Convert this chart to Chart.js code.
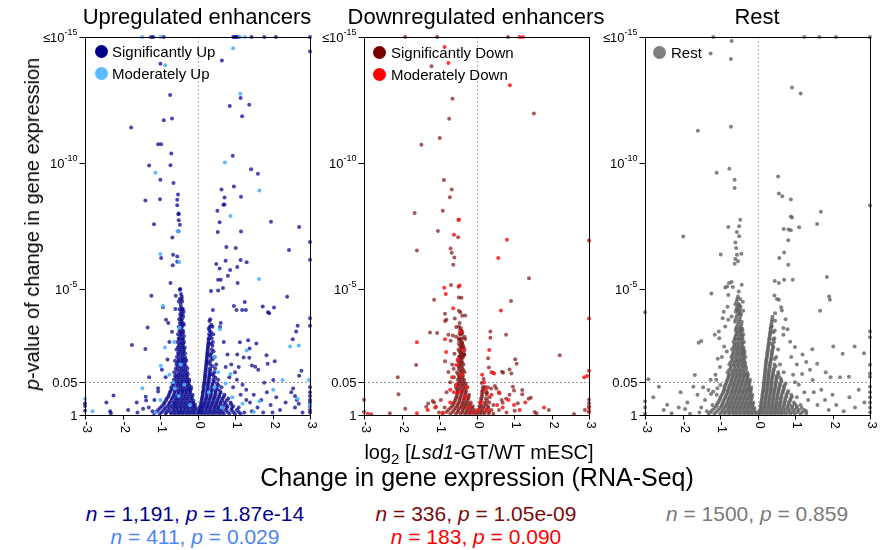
<!DOCTYPE html>
<html>
<head>
<meta charset="utf-8">
<script src="https://cdn.jsdelivr.net/npm/chart.js@4.4.1/dist/chart.umd.min.js"></script>
<style>
  body { margin: 0; background: #fff; }
  #wrap { position: relative; width: 885px; height: 550px; overflow: hidden; font-family: "Liberation Sans", Arial, sans-serif; }
  canvas { position: absolute; top: 0; }
  .t { position: absolute; white-space: nowrap; line-height: 1; transform: translateX(-50%); color: #000; }
  .leg { position: absolute; display: flex; align-items: center; height: 15px; font-size: 15px; line-height: 1; white-space: nowrap; }
  .dot { width: 13px; height: 13px; border-radius: 50%; }
</style>
</head>
<body>
<div id="wrap">
  <canvas id="c1" width="315" height="445" style="left:5px"></canvas>
  <canvas id="c2" width="315" height="445" style="left:284px"></canvas>
  <canvas id="c3" width="315" height="445" style="left:565px"></canvas>

  <div class="t" style="left:197px;top:6px;font-size:22px">Upregulated enhancers</div>
  <div class="t" style="left:476px;top:6px;font-size:22px">Downregulated enhancers</div>
  <div class="t" style="left:757px;top:6px;font-size:22px">Rest</div>

  <div class="leg" style="left:95px;top:44px"><div class="dot" style="background:#000088"></div><span style="margin-left:4px">Significantly Up</span></div>
  <div class="leg" style="left:95px;top:66px"><div class="dot" style="background:#5bbdff"></div><span style="margin-left:4px">Moderately Up</span></div>
  <div class="leg" style="left:373px;top:45px"><div class="dot" style="background:#7a0000"></div><span style="margin-left:5px">Significantly Down</span></div>
  <div class="leg" style="left:373px;top:67px"><div class="dot" style="background:#ff0000"></div><span style="margin-left:5px">Moderately Down</span></div>
  <div class="leg" style="left:653px;top:45px"><div class="dot" style="background:#7f7f7f"></div><span style="margin-left:5px">Rest</span></div>

  <div class="t" style="left:32px;top:224px;font-size:20px;transform:translate(-50%,-50%) rotate(-90deg)"><i>p</i>-value of change in gene expression</div>

  <div class="t" style="left:479px;top:442px;font-size:20px">log<span style="font-size:15px;position:relative;top:5px">2</span> [<i>Lsd1</i>-GT/WT mESC]</div>
  <div class="t" style="left:477px;top:465px;font-size:25px">Change in gene expression (RNA-Seq)</div>

  <div class="t" style="left:195px;top:503px;font-size:21px;color:#00008b"><i>n</i> = 1,191, <i>p</i> = 1.87e-14</div>
  <div class="t" style="left:195px;top:526px;font-size:21px;color:#4a86f5"><i>n</i> = 411, <i>p</i> = 0.029</div>
  <div class="t" style="left:476px;top:503px;font-size:21px;color:#7b0a0a"><i>n</i> = 336, <i>p</i> = 1.05e-09</div>
  <div class="t" style="left:476px;top:526px;font-size:21px;color:#ff0000"><i>n</i> = 183, <i>p</i> = 0.090</div>
  <div class="t" style="left:757px;top:503px;font-size:21px;color:#7a7a7a"><i>n</i> = 1500, <i>p</i> = 0.859</div>
</div>

<script>
// axis ticks (y is -log10 p, clipped at 15)
const xTicks = [-3, -2, -1, 0, 1, 2, 3];
const yTickVals = [0, 1.301, 5, 10, 15];
const yTickBase = ["1", "0.05", "10", "10", "\u226410"];
const yTickSup = ["", "", "-5", "-10", "-15"];

// ---- Upregulated enhancers ----
// scattered points [log2FC, -log10 p]
const upSig = [
  [-1.24,15],[-1.18,15],[-0.90,15],[0.95,15],[0.99,15],[1.04,15],[1.08,15],[1.44,15],[1.78,15],[2.09,15],[3,15],
  [3,14.42],[0.65,14.07],[-0.99,13.94],[-0.73,12.70],[1.15,12.58],[0.86,12.26],[1.38,12.31],[1.19,11.86],[-0.90,11.70],
  [-0.68,11.77],[-1.77,11.41],[-1.05,10.74],[-0.97,10.74],[-0.70,10.38],[0.94,10.29],[-1.29,9.90],[-0.72,9.91],[1.43,9.75],
  [1.61,9.57],[-0.99,9.34],[-0.64,9.21],[0.64,8.95],[0.97,9.07],[-0.52,8.75],[-1.39,8.51],[-1.00,8.56],[-0.54,8.54],
  [0.72,8.63],[1.16,8.66],[0.72,8.35],[-0.50,8.00],[0.53,8.11],[-0.54,8.32],[0.69,8.34],[-0.51,7.97],[-0.50,7.73],
  [-0.47,7.55],[-1.16,7.57],[0.59,7.65],[1.96,7.67],[2.71,7.46],[-0.51,7.29],[0.54,7.26],[1.16,7.28],[-0.67,7.04],
  [3,6.87],[2.44,6.55],[0.77,6.67],[1.02,6.63],[-0.97,6.23],[-0.65,6.36],[-0.54,6.29],[-0.54,6.08],[3,6.16],[1.15,6.15],
  [1.31,6.06],[0.75,6.12],[-0.66,5.94],[0.50,5.99],[0.59,5.81],[0.87,5.75],[1.06,5.87],[0.81,5.53],[-0.72,5.24],
  [0.55,5.37],[0.62,5.37],[1.07,5.24],[-1.23,4.73],[-0.58,4.73],[-0.47,4.97],[-0.42,4.70],[0.36,4.92],[0.55,4.94],
  [0.68,5.04],[2.39,4.69],[1.74,4.31],[2.04,4.27],[1.88,4.08],[1.91,4.04],[-0.92,4.28],[-0.59,4.21],[-0.39,4.21],
  [0.41,4.17],[0.97,4.33],[1.04,4.17],[1.26,4.48],[1.19,4.17],[1.29,4.17],[-0.84,3.78],[-0.78,3.65],[-1.33,3.47],
  [0.62,3.65],[0.60,3.49],[3,3.84],[3,3.54],[2.67,3.54],[2.63,3.31],[2.54,3.01],[-1.75,2.78],[-1.39,2.62],[1.13,2.89],
  [1.35,2.97],[1.57,2.84],[1.39,2.64],[1.06,2.40],[1.23,2.28],[1.38,2.27],[1.84,2.37],[2.06,2.13],[1.87,2.03],[1.45,1.96],
  [1.54,1.91],[1.62,1.80],[2.77,1.76],[2.71,1.56],[2.02,1.39],[1.78,1.28],[-1.29,1.50],[-1.05,1.06],[-1.05,0.93],
  [-1.62,0.50],[-1.38,0.72],[-1.37,0.58],[-2.24,0.77],[-2.43,0.50],[-3,0.47],[-3,0.36],[-3,0.17],[-2.33,0.15],[-2.31,0.07],
  [-1.85,0.2],[-1.6,0.1],[-1.3,0.3],[-1.2,0.15],[-1.45,0.25],[-1.15,0.6],[-0.85,1.5],[-0.95,1.8],[-0.8,2.2],[-0.75,2.9],
  [-0.68,3.3],[1.2,1.2],[1.3,1.0],[1.5,0.8],[1.4,0.5],[1.6,0.3],[1.7,0.6],[1.85,0.9],[1.95,0.4],[2.1,0.7],[2.2,0.2],
  [2.35,0.5],[2.5,0.9],[2.6,0.3],[2.65,0.6],[2.8,0.1],[1.1,0.3],[1.25,0.1],[1.45,0.15],[1.75,0.1],[2.0,0.1],[1.15,0.8],
  [1.3,0.6],[0.95,1.1],[1.05,1.4],[1.0,1.7],[0.9,2.0],[0.8,2.4],[0.7,2.9],[0.75,1.9],[0.85,1.5],[1.1,1.9],
  [3,1.1],[3,0.9],[3,0.75],[3,0.6],[3,0.5],[3,0.35],[3,0.2],[3,0.1],[2.6,0.75],[2.55,1.05],[2.7,0.45]
];
// dense V core, rows of [-log10 p, [log2FC ...]]
const upSigCore = [
  [0.05, [-1.15,-1.0,-0.85,-0.7,-0.6,-0.5,-0.4,-0.3,-0.2,-0.1,0,0.1,0.2,0.3,0.4,0.5,0.6,0.7,0.85,1.0,1.15]],
  [0.12, [-1.1,-0.95,-0.82,-0.72,-0.62,-0.52,-0.44,-0.36,-0.27,-0.18,-0.09,0.02,0.08,0.16,0.26,0.36,0.46,0.57,0.67,0.8,0.95,1.1]],
  [0.2, [-1.05,-0.9,-0.78,-0.65,-0.55,-0.45,-0.35,-0.25,-0.15,-0.06,0.04,0.12,0.22,0.32,0.42,0.52,0.62,0.75,0.9,1.05]],
  [0.28, [-1.0,-0.86,-0.73,-0.62,-0.53,-0.43,-0.33,-0.23,-0.13,-0.04,0.06,0.14,0.24,0.34,0.45,0.55,0.66,0.78,0.92]],
  [0.35, [-0.95,-0.8,-0.68,-0.58,-0.48,-0.38,-0.28,-0.18,-0.08,0.08,0.16,0.26,0.36,0.46,0.56,0.68,0.8,0.95]],
  [0.43, [-0.9,-0.76,-0.64,-0.55,-0.45,-0.35,-0.25,-0.15,-0.07,0.09,0.18,0.28,0.39,0.5,0.62,0.75,0.9]],
  [0.5, [-0.88,-0.74,-0.62,-0.52,-0.42,-0.32,-0.22,-0.12,0.1,0.2,0.3,0.4,0.5,0.6,0.72,0.88]],
  [0.58, [-0.84,-0.7,-0.59,-0.5,-0.4,-0.3,-0.2,-0.11,0.11,0.21,0.31,0.42,0.53,0.65,0.78]],
  [0.65, [-0.82,-0.68,-0.57,-0.47,-0.37,-0.27,-0.16,0.12,0.23,0.33,0.44,0.55,0.67,0.82]],
  [0.72, [-0.78,-0.65,-0.55,-0.45,-0.35,-0.25,-0.15,0.13,0.24,0.35,0.46,0.58,0.7]],
  [0.8, [-0.76,-0.63,-0.52,-0.42,-0.32,-0.22,-0.13,0.14,0.25,0.36,0.47,0.58,0.72]],
  [0.88, [-0.74,-0.61,-0.5,-0.4,-0.3,-0.2,0.14,0.25,0.36,0.48,0.62]],
  [0.95, [-0.72,-0.6,-0.5,-0.4,-0.3,-0.2,0.15,0.26,0.37,0.48,0.6]],
  [1.02, [-0.68,-0.56,-0.45,-0.35,-0.25,-0.18,0.17,0.28,0.4,0.53]],
  [1.1, [-0.7,-0.58,-0.47,-0.37,-0.27,-0.17,0.16,0.27,0.38,0.5,0.64]],
  [1.18, [-0.64,-0.52,-0.42,-0.32,-0.22,0.17,0.28,0.4,0.56]],
  [1.25, [-0.66,-0.55,-0.45,-0.35,-0.25,0.18,0.28,0.4,0.52]],
  [1.33, [-0.6,-0.5,-0.4,-0.3,-0.23,0.19,0.3,0.44]],
  [1.4, [-0.63,-0.52,-0.42,-0.32,-0.22,0.19,0.3,0.42,0.55]],
  [1.48, [-0.57,-0.47,-0.37,-0.27,0.2,0.31,0.48]],
  [1.55, [-0.6,-0.5,-0.4,-0.3,0.2,0.31,0.43]],
  [1.62, [-0.55,-0.45,-0.35,-0.26,0.21,0.33,0.4]],
  [1.7, [-0.62,-0.48,-0.38,-0.28,0.21,0.32,0.45]],
  [1.78, [-0.54,-0.43,-0.33,0.22,0.34]],
  [1.85, [-0.58,-0.47,-0.37,-0.27,0.22,0.33,0.47]],
  [1.93, [-0.52,-0.42,-0.31,0.23,0.4]],
  [2.0, [-0.56,-0.45,-0.35,0.23,0.34,0.5]],
  [2.08, [-0.54,-0.44,-0.34,0.24,0.3]],
  [2.15, [-0.6,-0.5,-0.4,-0.3,0.24,0.35]],
  [2.22, [-0.5,-0.4,-0.32,0.25,0.41]],
  [2.3, [-0.55,-0.44,-0.34,0.25,0.36,0.46]],
  [2.38, [-0.5,-0.39,0.26,0.33]],
  [2.45, [-0.52,-0.42,-0.33,0.26,0.37]],
  [2.53, [-0.48,-0.38,0.27,0.43]],
  [2.6, [-0.56,-0.46,-0.36,0.27,0.38]],
  [2.68, [-0.52,-0.42,-0.34,0.28]],
  [2.75, [-0.5,-0.4,0.28,0.4]],
  [2.83, [-0.47,-0.38,0.29,0.36]],
  [2.9, [-0.54,-0.44,-0.36,0.29,0.41]],
  [3.0, [-0.48,-0.39,0.3]],
  [3.05, [-0.5,-0.4,0.3,0.38]],
  [3.13, [-0.46,-0.36,0.34]],
  [3.2, [-0.52,-0.42,0.31,0.42]],
  [3.28, [-0.46,-0.38,0.36]],
  [3.35, [-0.48,-0.39,0.32]],
  [3.43, [-0.45,0.3]],
  [3.5, [-0.5,-0.41,0.33,0.4]],
  [3.58, [-0.44,-0.36,0.37]],
  [3.65, [-0.47,-0.39]],
  [3.73, [-0.43,0.32]],
  [3.8, [-0.49,-0.42,0.34]],
  [3.9, [-0.45,-0.38]],
  [4.0, [-0.46,-0.4]],
  [4.1, [-0.44,-0.37]],
  [4.2, [-0.48,-0.41]],
  [4.3, [-0.44]],
  [4.4, [-0.45]],
  [4.5, [-0.5,-0.41]],
  [4.6, [-0.47,-0.42]],
  [4.8, [-0.44]],
  [5.0, [-0.46]]
];
const upMod = [
  [-1.48,15],[-0.99,15],[1.13,15],[1.26,15],[0.95,14.55],[-0.86,13.88],[1.14,12.75],[0.73,10.02],[-1.12,9.61],[1.65,8.91],
  [0.88,7.90],[-0.53,7.29],[-0.49,6.07],[-0.99,6.39],[1.64,5.40],[-0.92,4.33],[2.70,2.76],[2.47,2.72],[-0.87,2.68],
  [1.31,2.56],[2.27,1.39],[2.97,1.39],[-1.47,1.06],[-3,0.64],[-2.80,0.15],[-0.62,2.9],[-0.48,3.46],[-0.98,1.95],
  [-0.65,1.3],[-0.6,1.05],[0.6,3.4],[0.55,1.7],[0.88,1.63],[0.93,0.7],[1.65,0.55],[2.02,1.0],[2.67,0.64],[1.5,0.12],
  [-1.12,0.09],[-0.99,0.6],[-0.45,2.0],[-0.35,1.2],[0.45,2.3],[0.3,0.9],[-0.2,0.4],[0.65,0.3],[0.45,1.1],[-0.5,0.75],
  [3,0.4],[1.2,0.45],[0.75,1.25],[-0.75,1.6]
];

// ---- Downregulated enhancers ----
const downSig = [
  [-1.90,15],[-1.05,15],[0.84,15],[-1.20,13.84],[-0.64,12.55],[1.53,11.96],[-0.73,11.76],[-0.98,10.99],[-1.47,10.72],
  [-0.87,9.33],[-0.66,8.95],[-0.71,8.64],[-1.65,8.02],[-0.90,8.11],[-0.48,7.75],[-1.03,7.30],[-1.59,6.53],[-0.49,7.05],
  [-0.69,6.61],[-0.66,6.44],[-0.59,6.25],[-0.62,5.96],[1.40,5.43],[-0.68,5.16],[-0.48,5.09],[-0.47,4.66],[-0.40,4.65],
  [-1.13,4.57],[0.92,4.52],[-0.47,4.14],[-0.43,4.08],[-0.38,3.94],[-0.30,3.95],[-0.84,4.02],[-0.80,3.78],[-0.84,3.73],
  [-0.58,3.83],[-0.54,3.49],[-0.45,3.65],[-1.24,3.27],[-1.05,3.25],[-0.75,3.18],[-0.63,3.15],[-0.54,3.11],[-0.45,3.22],
  [-0.39,3.22],[-0.32,3.11],[-0.30,3.02],[0.37,3.31],[0.37,3.07],[0.79,3.18],[-0.69,2.95],[-0.47,2.98],[-0.38,2.87],
  [-0.37,2.68],[-0.32,2.58],[-0.41,2.49],[-0.33,2.39],[-0.45,2.33],[-0.37,2.27],[-0.59,2.43],[-0.84,2.13],[-0.75,1.71],
  [-0.61,1.84],[0.31,2.25],[0.33,1.88],[0.44,1.68],[0.68,1.72],[0.71,1.68],[0.88,1.81],[0.93,1.65],[1.03,2.21],[1.07,2.03],
  [2.22,2.37],[-1.61,1.98],[-2.10,1.50],[-2.08,0.82],[-1.90,0.25],[-2.31,0.07],[-2.81,0.03],[-3,0.61],[-3,0.12],
  [-1.34,0.33],[-1.29,0.46],[-1.17,0.56],[-1.13,0.50],[-1.08,0.33],[0.19,1.43],[0.14,1.27],[0.22,1.12],[0.26,0.90],
  [0.39,1.05],[0.49,1.15],[0.53,1.05],[0.61,0.86],[0.67,0.60],[0.70,0.49],[0.79,0.64],[0.88,0.80],[0.97,1.12],[1.00,0.97],
  [1.22,0.99],[1.22,0.82],[1.39,0.64],[1.45,0.68],[1.55,0.12],[1.60,0.07],[1.10,0.47],[1.02,0.17],[1.93,0.20],[2.60,0.04],
  [2.89,0.20],[3,0.61],[3,0.47],[3,0.33],[3,0.17],[-0.95,0.6],[-0.85,0.3],[-1.0,0.1],[-0.7,1.3],[-0.8,0.9],[0.45,0.4],
  [0.6,0.2],[0.8,0.1],[0.35,0.7],[-0.6,1.5],[-0.65,2.0]
];
const downSigCore = [
  [0.05, [-0.9,-0.7,-0.55,-0.42,-0.3,-0.2,-0.1,0,0.1,0.2,0.32,0.45]],
  [0.12, [-0.8,-0.64,-0.5,-0.38,-0.27,-0.17,-0.08,0.02,0.12,0.22,0.34]],
  [0.2, [-0.75,-0.6,-0.48,-0.36,-0.25,-0.15,-0.05,0.05,0.15,0.27,0.4]],
  [0.28, [-0.7,-0.56,-0.44,-0.33,-0.22,-0.12,0.1,0.2,0.32]],
  [0.35, [-0.65,-0.52,-0.4,-0.3,-0.2,-0.1,0.08,0.18,0.3]],
  [0.43, [-0.62,-0.5,-0.38,-0.28,-0.18,0.12,0.25]],
  [0.5, [-0.6,-0.47,-0.36,-0.26,-0.15,0.1,0.22,0.34]],
  [0.58, [-0.57,-0.45,-0.34,-0.24,0.13,0.28]],
  [0.65, [-0.55,-0.44,-0.33,-0.22,0.12,0.25]],
  [0.72, [-0.53,-0.42,-0.31,-0.21,0.15]],
  [0.8, [-0.52,-0.4,-0.3,-0.2,0.14,0.27]],
  [0.88, [-0.5,-0.4,-0.3,0.16,0.28]],
  [0.95, [-0.5,-0.38,-0.27,0.15]],
  [1.02, [-0.52,-0.42,-0.32,0.18]],
  [1.1, [-0.55,-0.45,-0.35,-0.25,0.17,0.3]],
  [1.18, [-0.5,-0.4,-0.31]],
  [1.25, [-0.48,-0.38,-0.28]],
  [1.33, [-0.45,-0.35]],
  [1.4, [-0.5,-0.42,-0.33]],
  [1.48, [-0.47,-0.38]],
  [1.55, [-0.45,-0.36]],
  [1.62, [-0.49,-0.39]],
  [1.7, [-0.52,-0.41,-0.32]],
  [1.78, [-0.44,-0.35]],
  [1.85, [-0.47,-0.38]],
  [1.93, [-0.48,-0.4]],
  [2.0, [-0.44,-0.35]],
  [2.08, [-0.46,-0.38]],
  [2.15, [-0.5,-0.4]],
  [2.22, [-0.43]],
  [2.3, [-0.46,-0.37]],
  [2.38, [-0.41,-0.33]],
  [2.45, [-0.42,-0.34]],
  [2.53, [-0.45]],
  [2.6, [-0.48,-0.39]],
  [2.68, [-0.41,-0.34]],
  [2.75, [-0.44,-0.36]],
  [2.83, [-0.47,-0.39]],
  [2.9, [-0.4]],
  [3.0, [-0.43]],
  [3.05, [-0.46,-0.38]],
  [3.2, [-0.42]],
  [3.28, [-0.38]],
  [3.35, [-0.44,-0.4]],
  [3.45, [-0.42]],
  [3.5, [-0.47]]
];
const downMod = [
  [1.15,15],[1.24,15],[-0.85,14.6],[-0.75,13.97],[0.89,13.09],[-0.47,7.75],[-0.60,7.15],[0.81,6.95],[0.58,6.23],[3,6.92],
  [3,3.83],[-0.86,5.05],[-0.82,4.80],[-0.45,5.14],[0.65,4.15],[-0.62,4.24],[-1.59,2.89],[-0.84,3.01],[-0.81,2.50],
  [-0.54,1.98],[0.34,2.58],[0.47,1.65],[2.87,1.50],[2.95,1.55],[3,1.76],[-0.55,1.2],[-0.6,0.9],[-0.3,0.7],[0.2,1.3],
  [0.25,1.0],[0.4,0.8],[0.55,0.4],[0.7,0.3],[0.85,0.6],[1.0,0.4],[1.15,0.2],[1.3,0.5],[-1.1,0.3],[-1.3,0.2],[-1.59,0.07],
  [-2.9,0.05],[-0.9,0.1],[-0.7,0.5],[0.1,0.5],[0.3,0.2],[0.6,0.9],[-0.4,1.6],[-0.5,2.2],[-0.65,1.5],[0.4,1.7],[3,0.3],
  [3,0.12],[1.8,0.3],[0.15,1.6],[-0.35,2.6],[-0.42,3.3],[-0.7,1.0],[-0.2,0.3],[-0.1,0.1],[0.05,0.2],[-0.45,0.9],[-0.25,1.1]
];

// ---- Rest ----
const rest = [
  [-1.18,15],[1.25,15],[1.65,15],[2.09,15],[3,15],[-0.69,14.84],[-1.25,14.35],[-0.71,14.13],[0.92,13.0],[1.15,12.76],
  [-0.71,11.44],[-1.59,11.28],[-1.09,9.61],[-0.75,9.77],[-0.61,9.34],[-0.61,9.01],[0.55,9.46],[0.57,8.79],[0.66,8.68],
  [0.89,8.55],[3,8.31],[1.69,8.07],[0.89,7.88],[-0.46,7.75],[0.92,7.84],[1.59,7.58],[1.11,7.45],[0.83,7.36],[0.89,7.33],
  [0.70,7.38],[-0.49,7.49],[-0.78,7.46],[-0.55,7.26],[-0.49,7.09],[-0.59,6.85],[-0.57,6.63],[-0.55,6.36],[-0.43,6.40],
  [-1.98,7.08],[0.82,6.93],[0.71,6.45],[0.58,6.23],[0.82,5.96],[-0.98,6.37],[-0.59,6.19],[-0.52,6.10],[-0.61,6.00],
  [0.46,5.32],[0.57,5.24],[0.71,5.37],[0.94,5.37],[1.85,5.48],[-0.69,5.28],[-0.76,5.24],[-0.81,5.10],[-0.86,5.06],
  [-0.66,5.08],[-0.42,5.17],[-0.78,4.76],[-1.23,4.82],[0.45,4.74],[0.52,4.60],[0.57,4.57],[1.91,4.70],[1.93,4.57],
  [1.67,4.14],[-3,4.08],[-0.59,4.39],[-0.49,4.36],[-0.39,4.49],[-0.54,4.17],[-0.47,4.04],[-0.38,4.14],[-0.69,3.91],
  [-0.78,3.78],[-0.93,3.84],[-0.86,3.51],[0.63,4.28],[0.65,4.15],[0.47,4.04],[0.47,3.74],[0.38,3.51],[0.69,3.45],
  [0.87,2.91],[0.69,3.18],[-1.14,3.18],[-1.03,3.31],[-1.02,3.05],[-1.57,2.87],[-1.50,2.94],[3,3.31],[3,3.09],[2.84,2.45],
  [2.59,2.72],[2.27,2.43],[2.02,2.72],[1.46,2.61],[1.59,2.03],[1.82,1.70],[1.19,1.63],[1.47,1.39],[1.95,1.50],[2.20,1.50],
  [2.44,1.52],[3,1.99],[3,1.66],[3,1.52],[3,1.12],[3,0.9],[3,0.7],[3,0.5],[3,0.3],[3,0.1],[-1.67,1.59],[-1.71,1.12],
  [-2.63,1.12],[-2.91,1.42],[-2.78,0.70],[-2.41,0.41],[-1.87,0.50],[-1.93,0.24],[-2.29,0.07],[-1.31,0.99],[-1.24,0.83],
  [-1.18,0.93],[-1.09,0.80],[-1.07,1.06],[-0.99,1.19],[-1.06,2.23],[-0.89,2.72],[-0.82,2.52],[-1.5,0.3],[-1.4,0.6],
  [-1.6,0.8],[-1.2,0.4],[-1.35,0.15],[-1.55,0.1],[-1.8,0.05],[-2.1,0.3],[-2.5,0.2],[-3,0.05],[-3,0.3],[-3,0.55],
  [-1.25,1.4],[-1.45,1.1],[-2.05,0.9],[-1.12,1.6],[1.1,1.2],[1.25,0.9],[1.35,0.6],[1.5,0.9],[1.6,0.4],[1.7,1.0],[1.8,0.6],
  [1.9,0.2],[2.0,0.8],[2.1,0.4],[2.3,0.15],[2.45,0.7],[2.6,0.3],[2.7,1.0],[2.85,0.5],[1.15,0.4],[1.3,0.15],[1.05,0.7],
  [1.4,1.8],[1.05,2.0],[0.95,1.6],[1.0,1.3],[0.9,2.3],[1.0,2.7],[1.2,2.4],[1.3,2.1],[-1.0,1.9],[-0.95,2.3],[-1.1,1.4],
  [0.8,3.4],[0.75,3.8],[-0.8,4.3],[-0.9,4.1]
];
const restCore = [
  [0.05, [-1.3,-1.15,-1.0,-0.88,-0.76,-0.65,-0.55,-0.45,-0.35,-0.25,-0.15,-0.05,0.05,0.15,0.25,0.35,0.45,0.55,0.65,0.76,0.88,1.0,1.15,1.3]],
  [0.12, [-1.25,-1.1,-0.96,-0.85,-0.75,-0.65,-0.55,-0.45,-0.35,-0.25,-0.15,-0.06,0.02,0.1,0.2,0.3,0.4,0.5,0.6,0.7,0.82,0.94,1.07,1.2]],
  [0.2, [-1.2,-1.05,-0.92,-0.8,-0.7,-0.6,-0.5,-0.4,-0.3,-0.2,-0.1,0.06,0.14,0.24,0.34,0.44,0.54,0.64,0.75,0.86,0.98,1.1,1.25]],
  [0.28, [-1.15,-1.0,-0.88,-0.77,-0.67,-0.57,-0.47,-0.37,-0.27,-0.17,-0.08,0.1,0.19,0.29,0.39,0.49,0.59,0.7,0.81,0.93,1.05,1.18]],
  [0.35, [-1.1,-0.96,-0.85,-0.74,-0.64,-0.54,-0.44,-0.34,-0.24,-0.14,0.08,0.18,0.28,0.38,0.48,0.58,0.68,0.8,0.92,1.05]],
  [0.43, [-1.08,-0.94,-0.82,-0.72,-0.62,-0.52,-0.42,-0.32,-0.22,-0.13,0.1,0.2,0.3,0.4,0.5,0.6,0.72,0.85,1.0]],
  [0.5, [-1.05,-0.92,-0.8,-0.7,-0.6,-0.5,-0.4,-0.3,-0.2,-0.11,0.1,0.2,0.3,0.4,0.5,0.6,0.71,0.83,0.97]],
  [0.58, [-1.02,-0.9,-0.78,-0.68,-0.58,-0.48,-0.38,-0.28,-0.18,0.11,0.21,0.31,0.41,0.51,0.62,0.74,0.87]],
  [0.65, [-1.0,-0.87,-0.76,-0.66,-0.56,-0.46,-0.36,-0.26,-0.16,0.12,0.22,0.32,0.42,0.52,0.62,0.74,0.88]],
  [0.72, [-0.98,-0.85,-0.74,-0.64,-0.54,-0.44,-0.34,-0.24,-0.15,0.13,0.23,0.33,0.43,0.53,0.64,0.77,0.92]],
  [0.8, [-0.95,-0.83,-0.72,-0.62,-0.52,-0.42,-0.32,-0.22,-0.14,0.13,0.23,0.33,0.43,0.53,0.64,0.77,0.9]],
  [0.88, [-0.92,-0.8,-0.7,-0.6,-0.5,-0.4,-0.3,-0.2,0.14,0.24,0.34,0.44,0.55,0.67,0.8]],
  [0.95, [-0.9,-0.79,-0.68,-0.58,-0.48,-0.38,-0.28,-0.18,0.15,0.25,0.35,0.45,0.56,0.68,0.82]],
  [1.02, [-0.88,-0.77,-0.66,-0.56,-0.46,-0.36,-0.26,-0.18,0.16,0.26,0.36,0.46,0.57,0.7]],
  [1.1, [-0.88,-0.76,-0.65,-0.55,-0.45,-0.35,-0.25,-0.17,0.16,0.26,0.36,0.47,0.58,0.7]],
  [1.18, [-0.86,-0.74,-0.64,-0.54,-0.44,-0.34,-0.24,0.17,0.27,0.37,0.48,0.6,0.72]],
  [1.25, [-0.84,-0.72,-0.62,-0.52,-0.42,-0.32,-0.22,0.17,0.27,0.37,0.48,0.6,0.75]],
  [1.33, [-0.82,-0.7,-0.6,-0.5,-0.4,-0.3,-0.21,0.18,0.28,0.38,0.5,0.64]],
  [1.4, [-0.8,-0.69,-0.59,-0.49,-0.39,-0.29,-0.2,0.18,0.28,0.38,0.5,0.63]],
  [1.48, [-0.78,-0.67,-0.57,-0.47,-0.37,-0.27,0.19,0.29,0.39,0.5,0.6]],
  [1.55, [-0.77,-0.66,-0.56,-0.46,-0.36,-0.26,0.19,0.29,0.4,0.52]],
  [1.62, [-0.75,-0.64,-0.54,-0.44,-0.34,-0.26,0.2,0.3,0.42,0.56]],
  [1.7, [-0.8,-0.68,-0.58,-0.48,-0.38,-0.28,0.2,0.3,0.41,0.55,0.7]],
  [1.78, [-0.76,-0.65,-0.55,-0.45,-0.35,0.21,0.31,0.43]],
  [1.85, [-0.72,-0.6,-0.5,-0.4,-0.3,0.21,0.32,0.44]],
  [1.93, [-0.7,-0.6,-0.5,-0.4,-0.32,0.22,0.33,0.48]],
  [2.0, [-0.75,-0.64,-0.54,-0.44,-0.34,0.22,0.33,0.45,0.6]],
  [2.08, [-0.72,-0.61,-0.51,-0.41,-0.33,0.23,0.34]],
  [2.15, [-0.68,-0.57,-0.47,-0.37,0.23,0.35]],
  [2.22, [-0.66,-0.55,-0.45,-0.36,0.24,0.36,0.46]],
  [2.3, [-0.7,-0.6,-0.5,-0.4,-0.32,0.25,0.37,0.5]],
  [2.38, [-0.66,-0.56,-0.46,-0.37,0.26,0.38]],
  [2.45, [-0.65,-0.54,-0.44,-0.35,0.26,0.38]],
  [2.53, [-0.62,-0.52,-0.42,-0.35,0.27,0.39]],
  [2.6, [-0.68,-0.57,-0.47,-0.38,0.28,0.4,0.55]],
  [2.68, [-0.64,-0.54,-0.44,-0.37,0.28,0.42]],
  [2.75, [-0.62,-0.52,-0.42,0.29,0.41]],
  [2.83, [-0.6,-0.5,-0.4,0.3,0.38]],
  [2.9, [-0.64,-0.54,-0.44,-0.36,0.3,0.44]],
  [3.0, [-0.61,-0.51,-0.42,0.31,0.42]],
  [3.05, [-0.6,-0.5,-0.4,0.32,0.45]],
  [3.13, [-0.58,-0.48,-0.4,0.33]],
  [3.2, [-0.56,-0.46,-0.38,0.33]],
  [3.28, [-0.54,-0.44,0.34,0.42]],
  [3.35, [-0.58,-0.48,-0.4,0.35,0.46]],
  [3.43, [-0.57,-0.47,-0.41,0.35]],
  [3.5, [-0.55,-0.45,0.36]],
  [3.6, [-0.52,-0.43,0.37]],
  [3.7, [-0.6,-0.5,-0.42,0.38]],
  [3.8, [-0.58,-0.48,0.39]],
  [3.9, [-0.56,-0.46,0.4]],
  [4.0, [-0.53,-0.44]],
  [4.1, [-0.58,-0.48]],
  [4.2, [-0.56,-0.47]],
  [4.3, [-0.54,-0.45]],
  [4.4, [-0.5]],
  [4.5, [-0.56]],
  [4.6, [-0.54,-0.46]],
  [4.7, [-0.52]],
  [4.9, [-0.5]]
];

function pts(pairs) {
  return pairs.map(([x, y]) => ({ x: x, y: y }));
}
function rows(list) {
  const out = [];
  list.forEach(([y, xs]) => xs.forEach(x => out.push({ x: x, y: y })));
  return out;
}

const FONT = '"Liberation Sans", Arial, sans-serif';

// box, reference lines, ticks drawn by hand (x labels read top-to-bottom like the original)
const framePlugin = {
  id: "frame",
  beforeDatasetsDraw(chart) {
    const { ctx, chartArea: a, scales } = chart;
    const x0 = Math.round(scales.x.getPixelForValue(0)) + 0.5;
    const y05 = Math.round(scales.y.getPixelForValue(yTickVals[1])) + 0.5;
    ctx.save();
    ctx.lineWidth = 1;
    ctx.setLineDash([2, 2]);
    ctx.strokeStyle = "#b4b4b4";
    ctx.beginPath();
    ctx.moveTo(x0, a.top);
    ctx.lineTo(x0, a.bottom);
    ctx.stroke();
    ctx.strokeStyle = "#9a9a9a";
    ctx.beginPath();
    ctx.moveTo(a.left, y05);
    ctx.lineTo(a.right, y05);
    ctx.stroke();
    ctx.restore();
  },
  afterDatasetsDraw(chart) {
    const { ctx, chartArea: a, scales } = chart;
    const L = Math.round(a.left) + 0.5, R = Math.round(a.right) + 0.5;
    const T = Math.round(a.top) + 0.5, B = Math.round(a.bottom) + 0.5;
    ctx.save();
    ctx.strokeStyle = "#000";
    ctx.lineWidth = 1;
    ctx.strokeRect(L, T, R - L, B - T);
    ctx.fillStyle = "#000";

    // y ticks
    yTickVals.forEach((v, i) => {
      const py = Math.round(scales.y.getPixelForValue(v)) + 0.5;
      ctx.beginPath();
      ctx.moveTo(L - 6, py);
      ctx.lineTo(L, py);
      ctx.stroke();
      const rx = L - 8;
      ctx.textBaseline = "middle";
      ctx.font = "9px " + FONT;
      const sw = yTickSup[i] ? ctx.measureText(yTickSup[i]).width : 0;
      if (yTickSup[i]) {
        ctx.textAlign = "left";
        ctx.fillText(yTickSup[i], rx - sw, py - 5);
      }
      ctx.font = "13px " + FONT;
      ctx.textAlign = "right";
      ctx.fillText(yTickBase[i], rx - sw, py + 1);
    });

    // x ticks
    ctx.font = "13px " + FONT;
    xTicks.forEach(v => {
      const px = Math.round(scales.x.getPixelForValue(v)) + 0.5;
      ctx.beginPath();
      ctx.moveTo(px, B);
      ctx.lineTo(px, B + 4);
      ctx.stroke();
      ctx.save();
      ctx.translate(px + 1, B + 6);
      ctx.rotate(Math.PI / 2);
      ctx.textAlign = "left";
      ctx.textBaseline = "middle";
      ctx.fillText(String(v), 0, 0);
      ctx.restore();
    });
    ctx.restore();
  }
};

function makePanel(id, datasets) {
  new Chart(document.getElementById(id), {
    type: "scatter",
    data: { datasets: datasets },
    options: {
      responsive: false,
      animation: false,
      devicePixelRatio: 1,
      layout: { padding: { left: 80, right: 10, top: 37, bottom: 30 } },
      scales: {
        x: { type: "linear", min: -3, max: 3, display: false },
        y: { type: "linear", min: 0, max: 15, display: false }
      },
      plugins: { legend: { display: false }, tooltip: { enabled: false } },
      elements: { point: { radius: 2, borderWidth: 0, hoverRadius: 2 } }
    },
    plugins: [framePlugin]
  });
}

function ds(data, color, order) {
  return { data: data, backgroundColor: color, borderWidth: 0, pointRadius: 2, clip: 4, order: order };
}

makePanel("c1", [
  ds(pts(upSig).concat(rows(upSigCore)), "rgba(0,0,140,0.72)", 1),
  ds(pts(upMod), "rgba(80,180,255,0.9)", 0)
]);
makePanel("c2", [
  ds(pts(downSig).concat(rows(downSigCore)), "rgba(125,10,10,0.68)", 1),
  ds(pts(downMod), "rgba(255,20,20,0.85)", 0)
]);
makePanel("c3", [
  ds(pts(rest).concat(rows(restCore)), "rgba(90,90,90,0.75)", 0)
]);
</script>
</body>
</html>
